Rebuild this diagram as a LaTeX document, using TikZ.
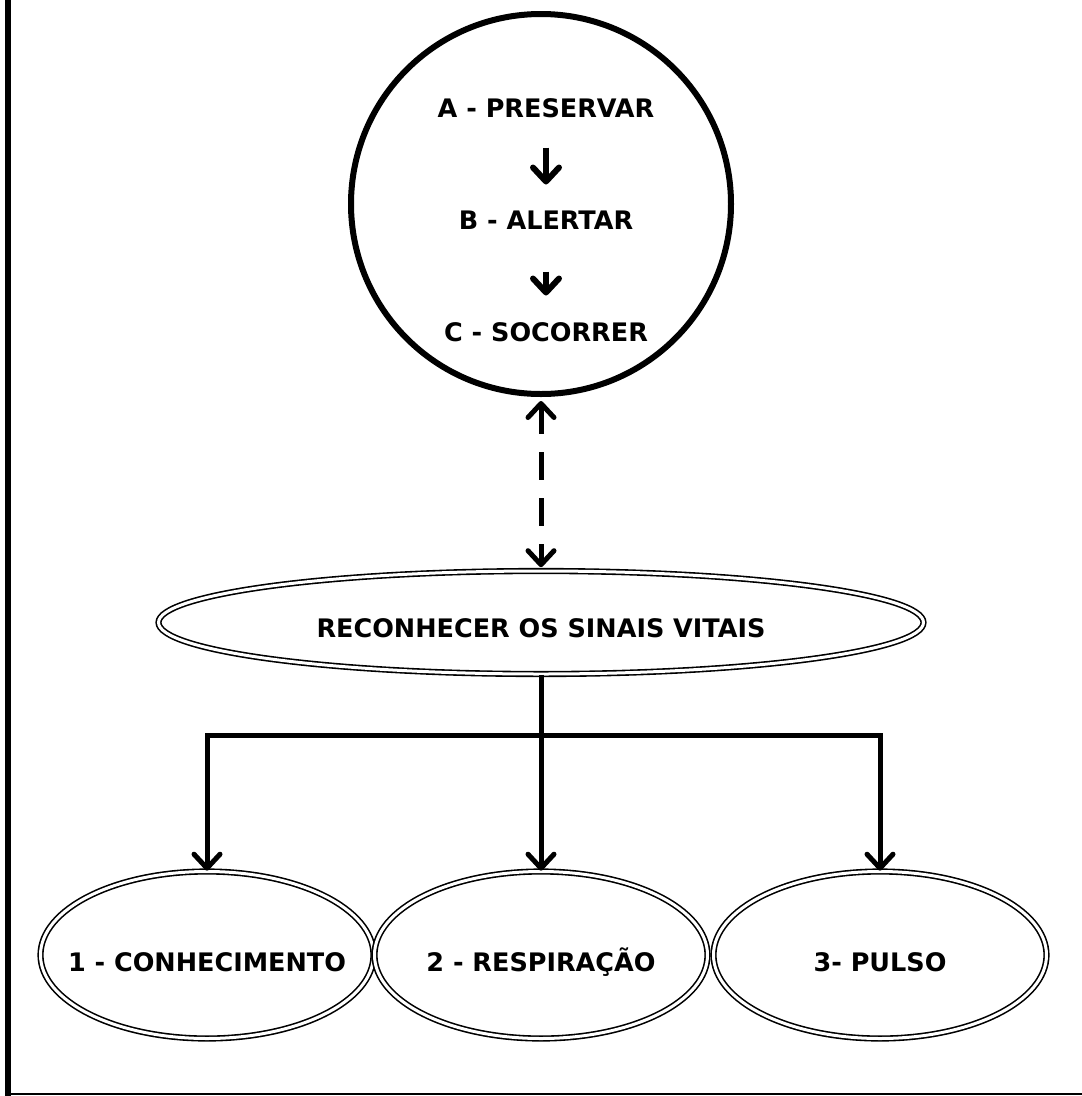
\documentclass[tikz,border=0pt]{standalone}
\usepackage{fontspec}
\setmainfont{DejaVu Sans}
\usetikzlibrary{shapes, arrows.meta, positioning, calc}

\tikzset{
  rotulo/.style={font=\fontsize{25.5}{30}\selectfont\bfseries, inner sep=0pt, text height=18.6pt, text depth=0pt},
  dupla/.style={draw, ellipse, double, line width=1.6pt, double distance=3pt, inner sep=0pt},
  sinal/.style={dupla, minimum width=333pt, minimum height=167pt},
  seta/.style={line width=5pt, -{Straight Barb[length=14pt, width=26pt, round]}},
}

\begin{document}
\begin{tikzpicture}[x=1pt, y=-1pt]
  \useasboundingbox (0,0) rectangle (1082,1096);
  % margens da pagina
  \draw[line width=6pt] (8,0) -- (8,1096);
  \draw[line width=2pt] (5,1094) -- (1082,1094);

  % circulo A-B-C
  \node[draw, circle, line width=6pt, minimum size=380pt, inner sep=0pt] (abc) at (541,204) {};
  \node[rotulo] (preservar) at (546,108) {A - PRESERVAR};
  \node[rotulo] (alertar) at (546,220) {B - ALERTAR};
  \node[rotulo] (socorrer) at (546,332) {C - SOCORRER};
  \draw[seta, line width=6pt, shorten <=30pt, shorten >=26pt] (preservar.south) -- (alertar.north);
  \draw[seta, line width=6pt, shorten <=42pt, shorten >=27pt] (alertar.south) -- (socorrer.north);

  % sinais vitais
  \node[dupla, minimum width=765pt, minimum height=103pt, label={[rotulo, text height=29.6pt]center:RECONHECER OS SINAIS VITAIS}] (sinais) at (541,622.5) {};
  \draw[seta, {Straight Barb[length=14pt, width=26pt, round]}-{Straight Barb[length=14pt, width=26pt, round]}, dash pattern=on 28pt off 18pt, shorten <=4pt, shorten >=3pt] (abc.south) -- (sinais.north);

  % os tres sinais
  \node[sinal, label={[rotulo, text height=32.6pt]center:1 - CONHECIMENTO}] (conhecimento) at (207,955) {};
  \node[sinal, label={[rotulo, text height=32.6pt]center:2 - RESPIRAÇÃO}] (respiracao) at (541,955) {};
  \node[sinal, label={[rotulo, text height=32.6pt]center:3- PULSO}] (pulso) at (880,955) {};

  \coordinate (juncao) at (541,735);
  \draw[seta] (sinais.south) -- (respiracao.north);
  \draw[seta] (juncao -| pulso.north) -- (juncao -| conhecimento.north) -- (conhecimento.north);
  \draw[seta, line cap=rect] (juncao -| pulso.north) -- (pulso.north);
\end{tikzpicture}
\end{document}
